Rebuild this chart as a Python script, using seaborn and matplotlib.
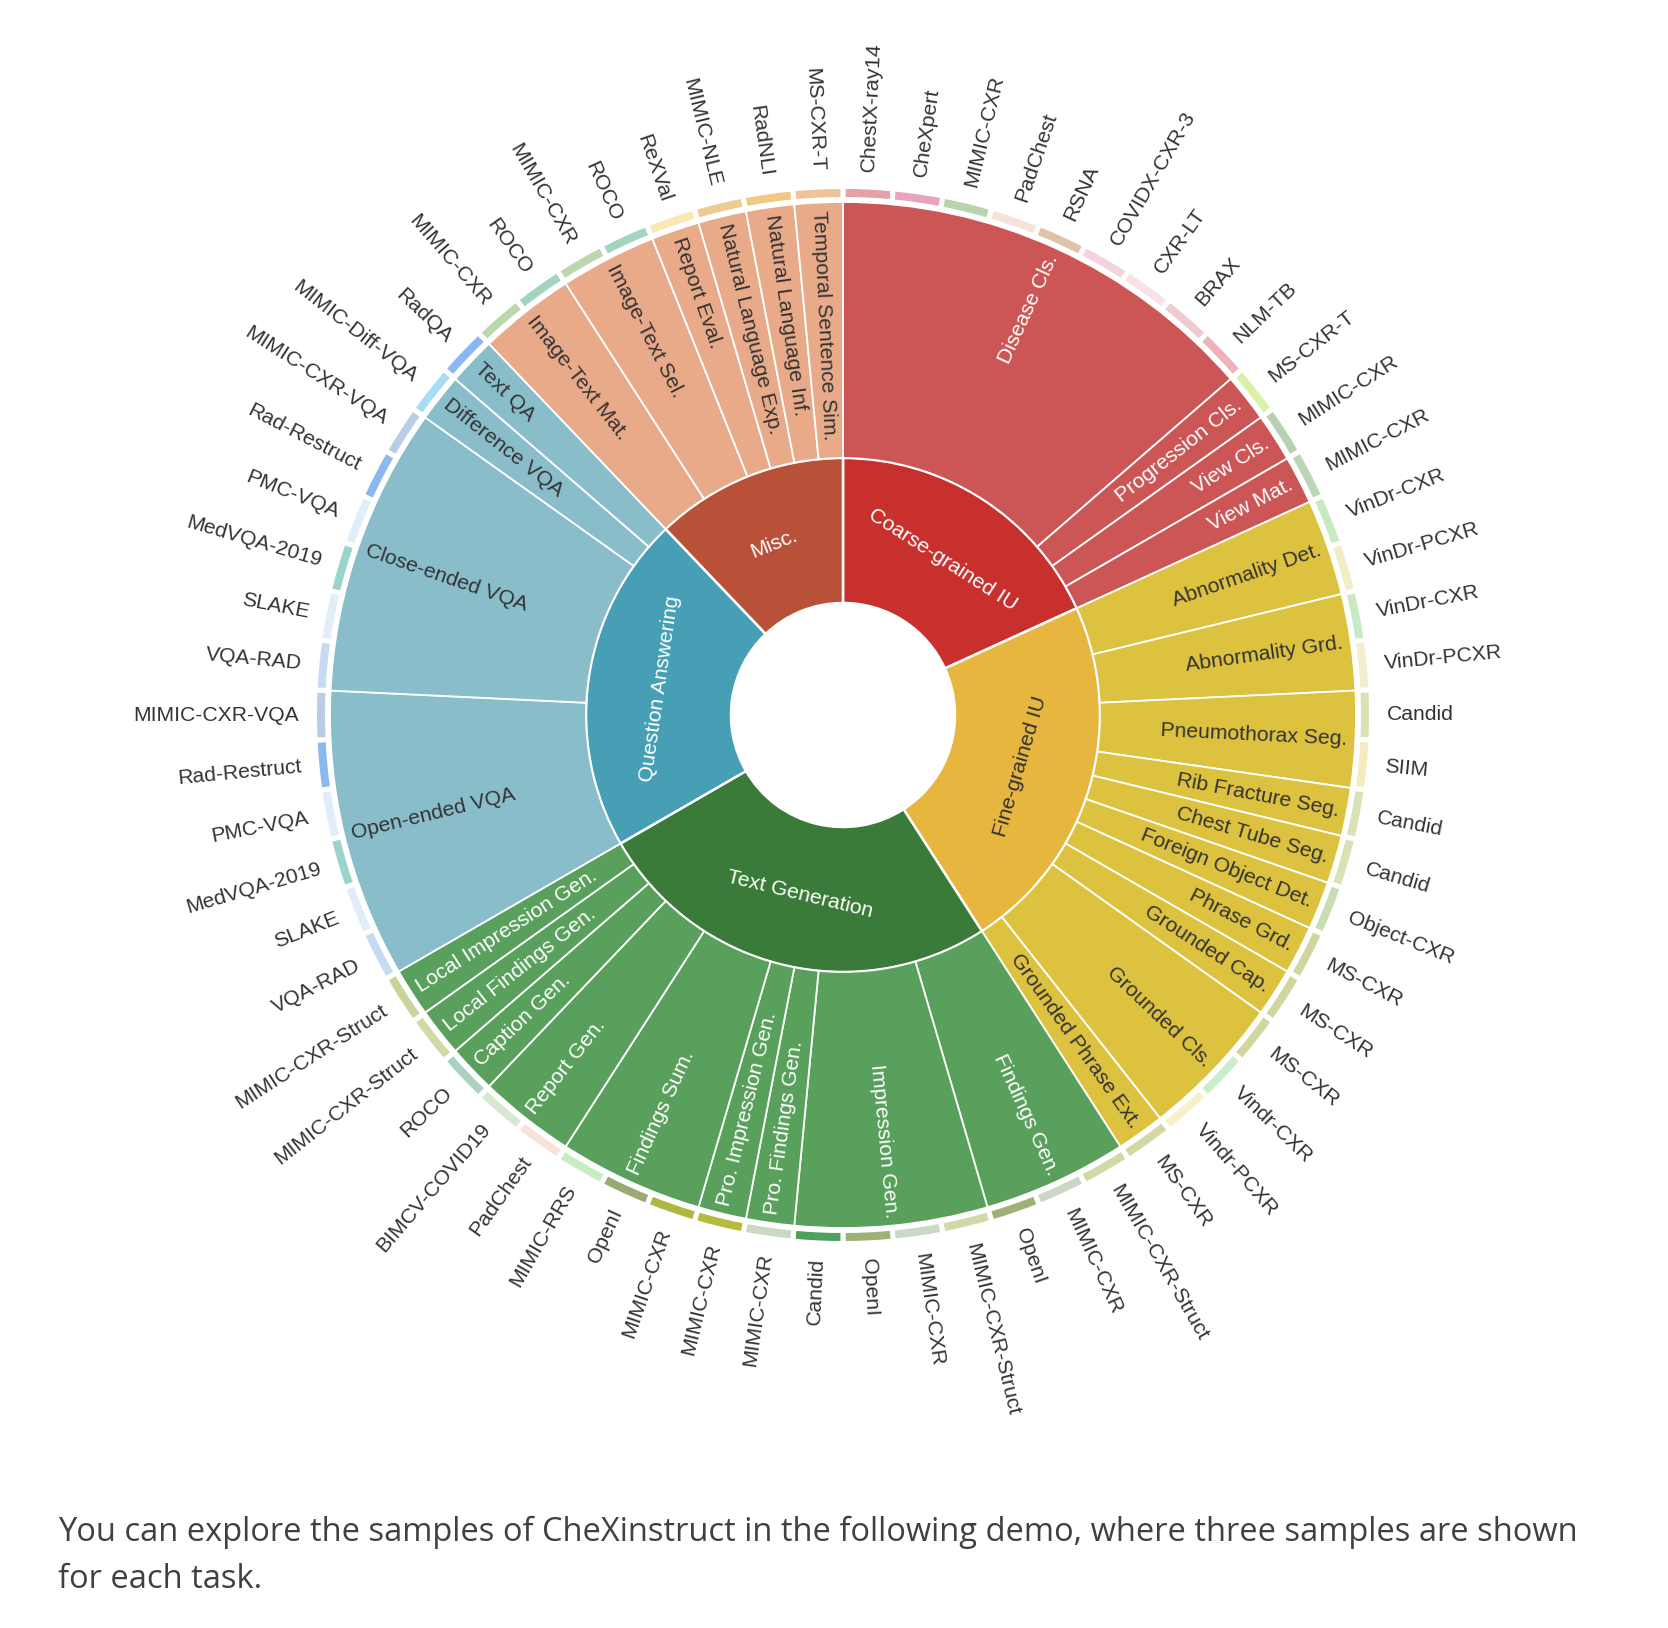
import matplotlib
matplotlib.use('Agg')
import matplotlib.pyplot as plt
import seaborn as sns
import numpy as np

# inner ring
categories = ['Coarse-grained IU', 'Fine-grained IU', 'Text Generation', 'Question Answering', 'Misc.']
cat_colors = ['#C8302E', '#E6B63E', '#3A7B39', '#469FB4', '#B95139']
task_colors = ['#CC5555', '#DCC23F', '#58A05C', '#89BDCA', '#E8AA89']
cat_text = ['white', '#333333', 'white', 'white', 'white']
task_text = ['white', '#333333', 'white', '#333333', '#333333']

# middle ring (tasks) and outer ring (datasets), clockwise from 12 o'clock
coarse_tasks = ['Disease Cls.', 'Progression Cls.', 'View Cls.', 'View Mat.']
coarse_sets = [['ChestX-ray14', 'CheXpert', 'MIMIC-CXR', 'PadChest', 'RSNA', 'COVIDX-CXR-3',
                'CXR-LT', 'BRAX', 'NLM-TB'],
               ['MS-CXR-T'], ['MIMIC-CXR'], ['MIMIC-CXR']]

fine_tasks = ['Abnormality Det.', 'Abnormality Grd.', 'Pneumothorax Seg.', 'Rib Fracture Seg.',
              'Chest Tube Seg.', 'Foreign Object Det.', 'Phrase Grd.', 'Grounded Cap.',
              'Grounded Cls.', 'Grounded Phrase Ext.']
fine_sets = [['VinDr-CXR', 'VinDr-PCXR'], ['VinDr-CXR', 'VinDr-PCXR'], ['Candid', 'SIIM'],
             ['Candid'], ['Candid'], ['Object-CXR'], ['MS-CXR'], ['MS-CXR'],
             ['MS-CXR', 'Vindr-CXR', 'Vindr-PCXR'], ['MS-CXR']]

textgen_tasks = ['Findings Gen.', 'Impression Gen.', 'Pro. Findings Gen.', 'Pro. Impression Gen.',
                 'Findings Sum.', 'Report Gen.', 'Caption Gen.', 'Local Findings Gen.',
                 'Local Impression Gen.']
textgen_sets = [['MIMIC-CXR-Struct', 'MIMIC-CXR', 'OpenI'],
                ['MIMIC-CXR-Struct', 'MIMIC-CXR', 'OpenI', 'Candid'],
                ['MIMIC-CXR'], ['MIMIC-CXR'], ['MIMIC-CXR', 'OpenI', 'MIMIC-RRS'],
                ['PadChest', 'BIMCV-COVID19'], ['ROCO'], ['MIMIC-CXR-Struct'], ['MIMIC-CXR-Struct']]

qa_tasks = ['Open-ended VQA', 'Close-ended VQA', 'Difference VQA', 'Text QA']
qa_sets = [['VQA-RAD', 'SLAKE', 'MedVQA-2019', 'PMC-VQA', 'Rad-Restruct', 'MIMIC-CXR-VQA'],
           ['VQA-RAD', 'SLAKE', 'MedVQA-2019', 'PMC-VQA', 'Rad-Restruct', 'MIMIC-CXR-VQA'],
           ['MIMIC-Diff-VQA'], ['RadQA']]

misc_tasks = ['Image-Text Mat.', 'Image-Text Sel.', 'Report Eval.', 'Natural Language Exp.',
              'Natural Language Inf.', 'Temporal Sentence Sim.']
misc_sets = [['MIMIC-CXR', 'ROCO'], ['MIMIC-CXR', 'ROCO'], ['ReXVal'], ['MIMIC-NLE'],
             ['RadNLI'], ['MS-CXR-T']]

leaf_colors = ['#E3A1A8', '#E9A3BC', '#B9D3AE', '#F6E3D8', '#DFC3A6', '#F3D3DF', '#F7E2E6',
               '#EDCBD1', '#EDB3B8', '#D9F2A8', '#B8D1B2', '#BDD5B7',
               '#C9E9C2', '#F1EDC6', '#C9E9C2', '#F3EECB', '#D9E2B5', '#F6EBBD', '#D9E2B5',
               '#D9E2B5', '#C9DDB2', '#CFD79F', '#CFD79F', '#CFD79F', '#CBEDCB', '#F6F1CB',
               '#D3D8A2',
               '#D1D9A7', '#C9D9C5', '#9FB276', '#D1D9A7', '#C9D9C5', '#9FB276', '#4CA25C',
               '#C9D9C5', '#B6BB40', '#AEB840', '#98AB72', '#C7EDC2', '#F8E3DA', '#D8E6D2',
               '#A9D2C3', '#D1D9A7', '#C9D39A',
               '#C6DAF2', '#E1EDF9', '#9AD5CD', '#E1EEF9', '#8AB9F1', '#BACDE6',
               '#C6DAF2', '#E1EDF9', '#9AD5CD', '#E1EEF9', '#8AB9F1', '#BACDE6',
               '#A9DDF3', '#8AB6F2',
               '#BAD7AE', '#A4D3C0', '#BAD7AE', '#A4D3C0', '#F8E9B3', '#EBCC93', '#F2C983',
               '#F0C29B']

caption = ['You can explore the samples of CheXinstruct in the following demo, where three samples are shown',
           'for each task.']

all_tasks = [coarse_tasks, fine_tasks, textgen_tasks, qa_tasks, misc_tasks]
all_sets = [coarse_sets, fine_sets, textgen_sets, qa_sets, misc_sets]

cat_values = [sum(len(s) for s in group) for group in all_sets]
task_names = [t for group in all_tasks for t in group]
task_values = [len(s) for group in all_sets for s in group]
task_cat = [i for i, group in enumerate(all_tasks) for _ in group]
leaf_names = [d for group in all_sets for s in group for d in s]
leaf_values = [1 for _ in leaf_names]

sns.set_theme(style='white')
plt.rcParams['font.family'] = ['Liberation Sans', 'DejaVu Sans']

W, H = 1668, 1628
cx, cy, half = 843, 715, 700
fig = plt.figure(figsize=(W / 100, H / 100), dpi=100)
ax = fig.add_axes([(cx - half) / W, (H - cy - half) / H, 2 * half / W, 2 * half / H])

inner, _ = ax.pie(cat_values, radius=257, colors=cat_colors, startangle=90, counterclock=False,
                  wedgeprops=dict(width=145, edgecolor='white', linewidth=1.8))
mid, _ = ax.pie(task_values, radius=513, colors=[task_colors[c] for c in task_cat],
                startangle=90, counterclock=False,
                wedgeprops=dict(width=256, edgecolor='white', linewidth=1.3))
outer, _ = ax.pie(leaf_values, radius=528.5, colors=leaf_colors, startangle=90, counterclock=False,
                  wedgeprops=dict(width=13, edgecolor='white', linewidth=3.6))
ax.set_xlim(-half, half)
ax.set_ylim(-half, half)

FS = 15.2


def mid_deg(w):
    d = (w.theta1 + w.theta2) / 2
    return (d + 180) % 360 - 180


def radial(deg, r, text, color, outward_anchor):
    # outward_anchor: True -> text begins at r and runs outward on the right side
    phi = np.deg2rad(deg)
    x, y = r * np.cos(phi), r * np.sin(phi)
    right = -90 < deg <= 90
    rot = deg if right else deg - 180
    if outward_anchor:
        ha = 'left' if right else 'right'
    else:
        ha = 'right' if right else 'left'
    ax.text(x, y, text, rotation=rot, rotation_mode='anchor', ha=ha, va='center',
            fontsize=FS, color=color)


for w, name, c in zip(inner, categories, cat_text):
    deg = mid_deg(w)
    rot = deg - 90
    rot = (rot + 180) % 360 - 180
    if rot > 90:
        rot -= 180
    elif rot <= -90:
        rot += 180
    phi = np.deg2rad(deg)
    ax.text(184.5 * np.cos(phi), 184.5 * np.sin(phi), name, rotation=rot, rotation_mode='anchor',
            ha='center', va='center', fontsize=FS, color=c)

for w, name, ci in zip(mid, task_names, task_cat):
    radial(mid_deg(w), 505, name, task_text[ci], outward_anchor=False)

for w, name in zip(outer, leaf_names):
    radial(mid_deg(w), 544, name, '#333333', outward_anchor=True)

fig.text(58 / W, 1 - 1532 / H, caption[0], fontsize=23.5, family=['Open Sans', 'DejaVu Sans'],
         color='#404040', va='center', ha='left')
fig.text(58 / W, 1 - 1580 / H, caption[1], fontsize=23.5, family=['Open Sans', 'DejaVu Sans'],
         color='#404040', va='center', ha='left')

fig.savefig('out.png', dpi=100, facecolor='white')
